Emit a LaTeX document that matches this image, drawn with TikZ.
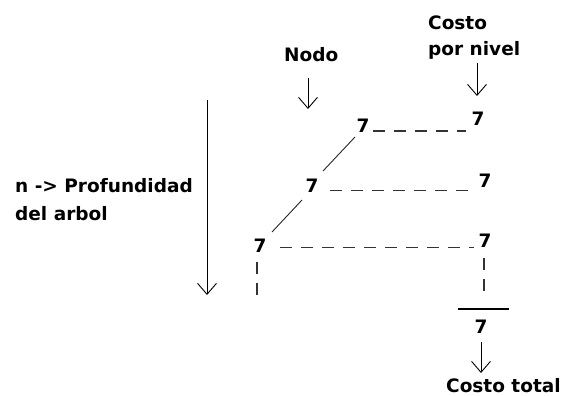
\documentclass[tikz,border=0pt]{standalone}
\usepackage{fontspec}
\setmainfont{DejaVu Sans}
\usetikzlibrary{arrows.meta}
\begin{document}
\begin{tikzpicture}[x=1pt,y=-1pt,
  lbl/.style={font=\fontsize{18.5}{22}\selectfont\bfseries, inner sep=0, anchor=base west},
  num/.style={font=\fontsize{18.5}{22}\selectfont\bfseries, inner sep=0, anchor=base},
  arr/.style={line width=0.9pt, -{Straight Barb[length=11pt,width=19pt,line width=0.9pt]}},
  dsh/.style={line width=1.4pt, draw=black!80, dash pattern=on 12pt off 9pt},
  thinln/.style={line width=0.9pt, draw=black!85}]
\useasboundingbox (0,0) rectangle (563,396);
% labels
\node[lbl] (costo1) at (428,30) {Costo};
\node[lbl] (costo2) at (428,56) {por nivel};
\node[lbl] (nodo) at (284,62) {Nodo};
\node[lbl] (prof1) at (15,193) {n -> Profundidad};
\node[lbl] (prof2) at (15,220) {del arbol};
\node[lbl] (total) at (446,392) {Costo total};
% numbers
\node[num] (n1) at (363,132) {7};
\node[num] (r1) at (478,126) {7};
\node[num] (n2) at (312,193) {7};
\node[num] (r2) at (485,187) {7};
\node[num] (n3) at (260,252) {7};
\node[num] (r3) at (485,247) {7};
\node[num] (t) at (481,333) {7};
% coordinates
\coordinate (ca1) at (477,63);  \coordinate (ca2) at (477,96);
\coordinate (na1) at (308,78);  \coordinate (na2) at (308,109);
\coordinate (pa1) at (207,100); \coordinate (pa2) at (207,295);
\coordinate (ta1) at (481,342); \coordinate (ta2) at (481,373);
\coordinate (d1a) at (355,137); \coordinate (d1b) at (323,171);
\coordinate (d2a) at (302,200); \coordinate (d2b) at (272,232);
\coordinate (h1a) at (373,131); \coordinate (h1b) at (466,131);
\coordinate (h2a) at (330,190.5); \coordinate (h2b) at (473,190.5);
\coordinate (h3a) at (280,247.5); \coordinate (h3b) at (474,247.5);
\coordinate (v1a) at (257,262); \coordinate (v1b) at (257,303);
\coordinate (v2a) at (484,258); \coordinate (v2b) at (484,298);
\coordinate (sa) at (458,309);  \coordinate (sb) at (509,309);
% arrows
\draw[arr] (ca1) -- (ca2);
\draw[arr] (na1) -- (na2);
\draw[arr] (pa1) -- (pa2);
\draw[arr] (ta1) -- (ta2);
% tree edges
\draw[thinln] (d1a) -- (d1b);
\draw[thinln] (d2a) -- (d2b);
% dashed lines
\draw[dsh] (h1a) -- (h1b);
\draw[dsh] (h2a) -- (h2b);
\draw[dsh] (h3a) -- (h3b);
\draw[dsh] (v1a) -- (v1b);
\draw[dsh] (v2a) -- (v2b);
% sum line
\draw[line width=1.1pt] (sa) -- (sb);
\end{tikzpicture}
\end{document}
